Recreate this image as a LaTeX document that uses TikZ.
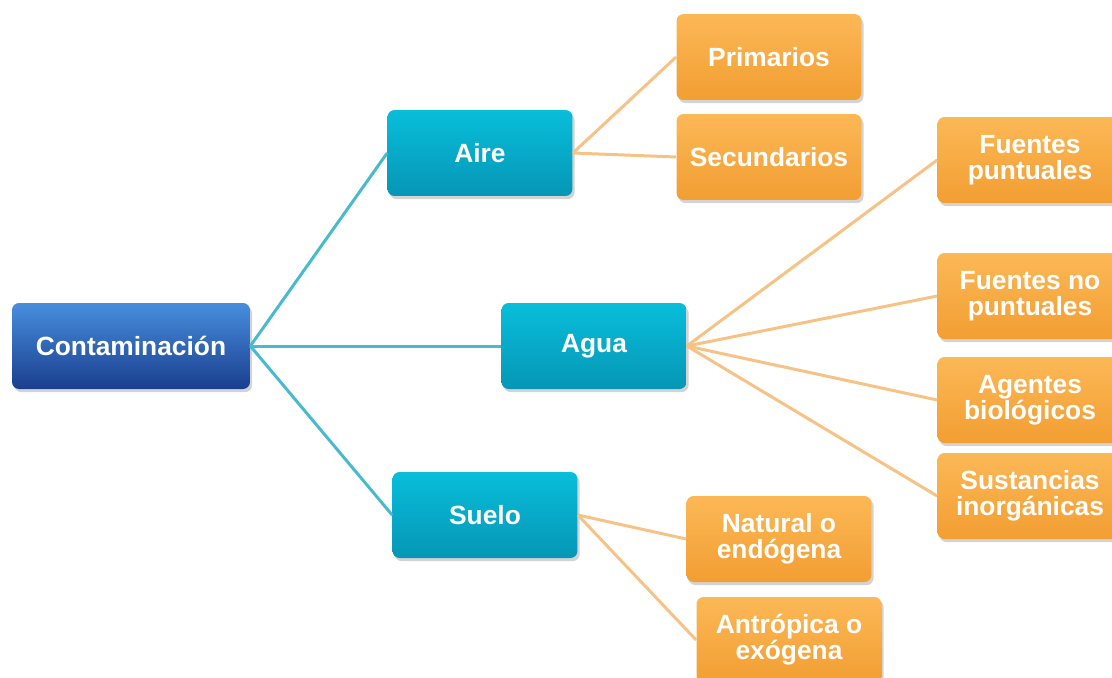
\documentclass[tikz,border=0pt]{standalone}
\usepackage{fontspec}
\setmainfont{Liberation Sans}
\usetikzlibrary{shadows}

\definecolor{azulclaro}{RGB}{72,142,222}
\definecolor{azulosc}{RGB}{26,62,142}
\definecolor{turqclaro}{RGB}{8,190,218}
\definecolor{turqosc}{RGB}{6,150,182}
\definecolor{naranjaclaro}{RGB}{252,184,86}
\definecolor{naranjaosc}{RGB}{242,158,50}
\definecolor{lineaturq}{RGB}{72,186,206}
\definecolor{lineanaranja}{RGB}{246,194,134}

\begin{document}
\begin{tikzpicture}[x=0.02cm, y=-0.02cm,
    caja/.style={rounded corners=4pt, align=center, text=white,
        font=\bfseries\fontsize{15}{14.7}\selectfont,
        minimum width=3.7cm, minimum height=1.72cm, inner sep=2pt,
        drop shadow={shadow xshift=1.2pt, shadow yshift=-1.8pt, opacity=0.35}},
    raiz/.style={caja, minimum width=4.76cm, top color=azulclaro, bottom color=azulosc},
    tema/.style={caja, top color=turqclaro, bottom color=turqosc},
    tipo/.style={caja, top color=naranjaclaro, bottom color=naranjaosc},
    ramaazul/.style={lineaturq, line width=1.7pt},
    ramanaranja/.style={lineanaranja, line width=1.7pt}]
    \useasboundingbox (0,0) rectangle (1112,677);
    \clip (0,0) rectangle (1112,677);

    % Raiz
    \node[raiz] (cont) at (131,346) {Contaminación};

    % Temas
    \node[tema] (aire) at (480,153) {Aire};
    \node[tema] (agua) at (594,346) {Agua};
    \node[tema] (suelo) at (485,515) {Suelo};

    % Aire
    \node[tipo] (prim) at (769,57) {Primarios};
    \node[tipo] (secu) at (769,157) {Secundarios};

    % Agua
    \node[tipo] (fpun) at (1030,160) {Fuentes\\puntuales};
    \node[tipo] (fnop) at (1030,296) {Fuentes no\\puntuales};
    \node[tipo] (agen) at (1030,400) {Agentes\\biológicos};
    \node[tipo] (sust) at (1030,496) {Sustancias\\inorgánicas};

    % Suelo
    \node[tipo] (natu) at (779,539) {Natural o\\endógena};
    \node[tipo] (antr) at (789,640) {Antrópica o\\exógena};

    % Ramas
    \foreach \t in {aire,agua,suelo}
        \draw[ramaazul] (cont.east) -- (\t.west);
    \foreach \t in {prim,secu}
        \draw[ramanaranja] (aire.east) -- (\t.west);
    \foreach \t in {fpun,fnop,agen,sust}
        \draw[ramanaranja] (agua.east) -- (\t.west);
    \foreach \t in {natu,antr}
        \draw[ramanaranja] (suelo.east) -- (\t.west);
\end{tikzpicture}
\end{document}
